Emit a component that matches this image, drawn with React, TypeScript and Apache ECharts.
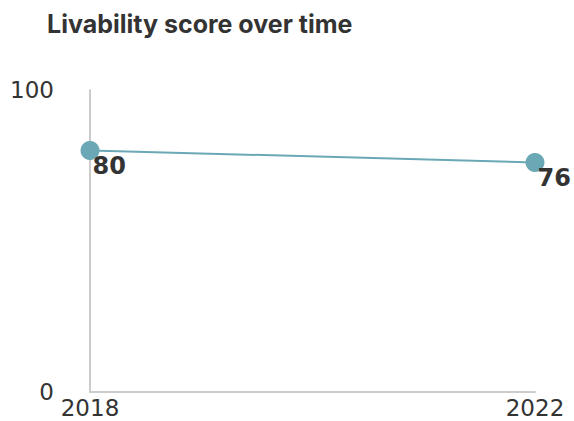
import React, { useEffect, useRef } from "react";
import * as echarts from "echarts";

const years = ["2018", "2022"];
const scores = [80, 76];
const yTicks = [0, 100];
const title = "Livability score over time";

export default function App() {
  const ref = useRef<HTMLDivElement>(null);
  useEffect(() => {
    if (!ref.current) return;
    const chart = echarts.init(ref.current, null, { renderer: "svg" });
    chart.setOption({
      animation: false,
      title: {
        text: title,
        left: 42,
        top: 6,
        textStyle: { fontFamily: "Inter", fontWeight: "bold", fontSize: 25, color: "#333" },
      },
      grid: { left: 90, right: 39, top: 90, bottom: 29, containLabel: false },
      xAxis: {
        type: "category",
        data: years,
        boundaryGap: false,
        axisLine: { lineStyle: { color: "#ccc", width: 2 } },
        axisTick: { show: false },
        axisLabel: { fontFamily: "DejaVu Sans", fontSize: 23, color: "#333", margin: 4 },
      },
      yAxis: {
        type: "value",
        min: yTicks[0],
        max: yTicks[1],
        interval: 100,
        axisLine: { show: true, lineStyle: { color: "#ccc", width: 2 } },
        axisTick: { show: false },
        splitLine: { show: false },
        axisLabel: { fontFamily: "DejaVu Sans", fontSize: 23, color: "#333", margin: 36 },
      },
      series: [
        {
          type: "line",
          data: scores,
          symbol: "circle",
          symbolSize: 19,
          itemStyle: { color: "#6aa8b5" },
          lineStyle: { color: "#6aa8b5", width: 2 },
          label: {
            show: true,
            position: [12, 25],
            align: "left",
            verticalAlign: "middle",
            fontFamily: "DejaVu Sans",
            fontWeight: "bold",
            fontSize: 24,
            color: "#333",
          },
        },
      ],
    });
    return () => chart.dispose();
  }, []);
  return <div ref={ref} style={{ width: 574, height: 421, position: "absolute", left: 0, top: 0 }} />;
}
